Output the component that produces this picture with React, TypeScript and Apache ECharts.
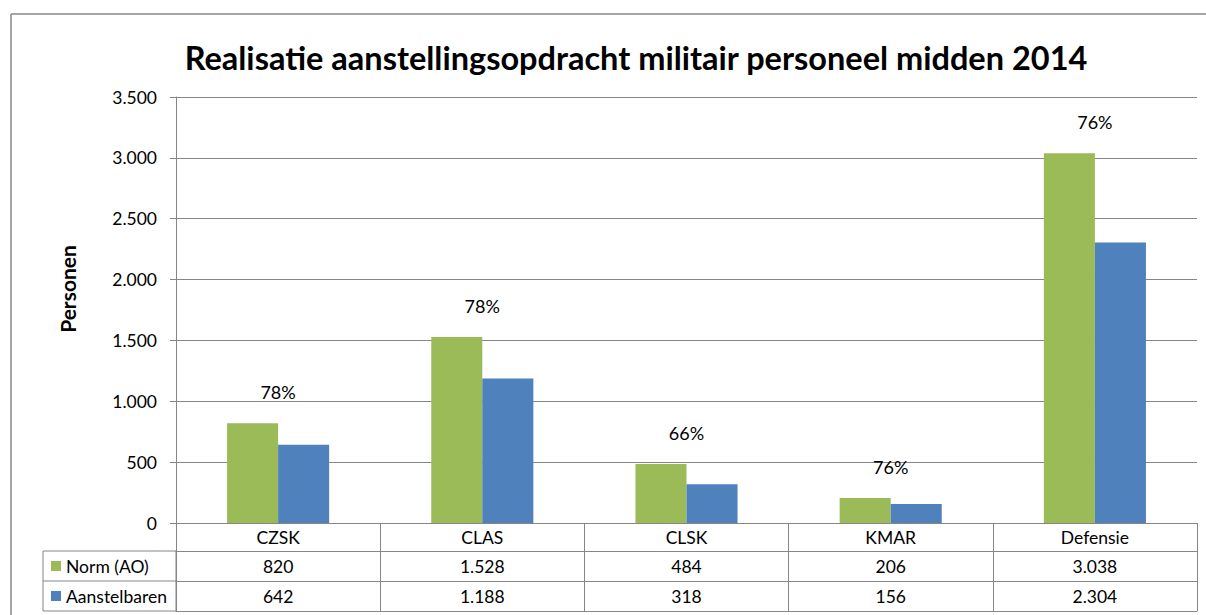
import React, { useEffect, useRef } from "react";
import * as echarts from "echarts";

const categories = ["CZSK", "CLAS", "CLSK", "KMAR", "Defensie"];
const normAO = [820, 1528, 484, 206, 3038];
const aanstelbaren = [642, 1188, 318, 156, 2304];
const realisatie = ["78%", "78%", "66%", "76%", "76%"];
const seriesNames = ["Norm (AO)", "Aanstelbaren"];
const yTicks = { min: 0, max: 3500, interval: 500 };
const titleText = "Realisatie aanstellingsopdracht militair personeel midden 2014";
const yAxisTitle = "Personen";

const fmt = (v: number) => String(v).replace(/\B(?=(\d{3})+(?!\d))/g, ".");

const FONT = "Lato, 'Open Sans', sans-serif";
const GRID_COLOR = "#868686";
const GREEN = "#9BBB59";
const BLUE = "#4F81BD";
const FS = 17.5;

export default function App() {
  const ref = useRef<HTMLDivElement>(null);
  useEffect(() => {
    document.documentElement.style.overflow = "hidden";
    document.body.style.margin = "0";
    document.body.style.overflow = "hidden";
    if (!ref.current) return;
    const chart = echarts.init(ref.current, undefined, { renderer: "svg" });
    const option: any = {
      animation: false,
      textStyle: { fontFamily: FONT },
      grid: { left: 176, right: 9, top: 97, bottom: 92, containLabel: false },
      legend: {
        data: seriesNames,
        orient: "vertical",
        left: 51,
        top: 557,
        padding: 0,
        itemWidth: 10,
        itemHeight: 10,
        itemGap: 12,
        icon: "rect",
        selectedMode: false,
        textStyle: { fontFamily: FONT, fontSize: FS, color: "#000", lineHeight: 18 },
      },
      xAxis: [
        {
          type: "category",
          data: categories,
          position: "bottom",
          axisLine: { show: true, lineStyle: { color: GRID_COLOR, width: 1 } },
          axisTick: { show: true, length: 88, interval: 0, alignWithLabel: false, lineStyle: { color: GRID_COLOR } },
          axisLabel: { interval: 0, margin: 5, fontSize: FS, color: "#000", fontFamily: FONT },
        },
        {
          type: "category",
          data: normAO.map(fmt),
          position: "bottom",
          offset: 28,
          axisLine: { show: true, lineStyle: { color: GRID_COLOR, width: 1 } },
          axisTick: { show: false },
          axisLabel: { interval: 0, margin: 6, fontSize: FS, color: "#000", fontFamily: FONT },
        },
        {
          type: "category",
          data: aanstelbaren.map(fmt),
          position: "bottom",
          offset: 58,
          axisLine: { show: true, lineStyle: { color: GRID_COLOR, width: 1 } },
          axisTick: { show: false },
          axisLabel: { interval: 0, margin: 6, fontSize: FS, color: "#000", fontFamily: FONT },
        },
        {
          type: "category",
          data: categories,
          position: "bottom",
          offset: 88,
          axisLine: { show: true, lineStyle: { color: GRID_COLOR, width: 1 } },
          axisTick: { show: false },
          axisLabel: { show: false },
        },
      ],
      yAxis: {
        type: "value",
        min: yTicks.min,
        max: yTicks.max,
        interval: yTicks.interval,
        axisLine: { show: true, lineStyle: { color: GRID_COLOR } },
        axisTick: { show: true, length: 6, lineStyle: { color: GRID_COLOR } },
        axisLabel: { fontSize: FS, color: "#000", margin: 19, fontFamily: FONT, formatter: (v: number) => fmt(v) },
        splitLine: { show: true, lineStyle: { color: GRID_COLOR, width: 1 } },
      },
      series: [
        {
          name: seriesNames[0],
          type: "bar",
          data: normAO,
          barGap: "0%",
          barCategoryGap: "50%",
          itemStyle: { color: GREEN },
          label: {
            show: true,
            position: "top",
            distance: 22,
            offset: [25.5, 0],
            fontSize: 18,
            color: "#000",
            fontFamily: FONT,
            formatter: (p: any) => realisatie[p.dataIndex],
          },
        },
        {
          name: seriesNames[1],
          type: "bar",
          data: aanstelbaren,
          barGap: "0%",
          barCategoryGap: "50%",
          itemStyle: { color: BLUE },
        },
      ],
      graphic: [
        {
          type: "line",
          shape: { x1: 11, y1: 14, x2: 1206, y2: 14 },
          style: { stroke: "#898989", lineWidth: 1.5 },
          silent: true,
        },
        {
          type: "line",
          shape: { x1: 11, y1: 14, x2: 11, y2: 615 },
          style: { stroke: "#898989", lineWidth: 1.5 },
          silent: true,
        },
        {
          type: "rect",
          shape: { x: 43, y: 551, width: 133, height: 60 },
          style: { fill: "none", stroke: GRID_COLOR, lineWidth: 1 },
          silent: true,
        },
        {
          type: "line",
          shape: { x1: 43, y1: 581, x2: 176, y2: 581 },
          style: { stroke: GRID_COLOR, lineWidth: 1 },
          silent: true,
        },
        {
          type: "text",
          x: 636,
          y: 57,
          style: {
            text: titleText,
            fontSize: 32.5,
            fontWeight: "bold",
            fontFamily: FONT,
            fill: "#000",
            align: "center",
            verticalAlign: "middle",
          },
        },
        {
          type: "text",
          x: 67,
          y: 289,
          rotation: Math.PI / 2,
          style: {
            text: yAxisTitle,
            fontSize: 21,
            fontWeight: "bold",
            fontFamily: FONT,
            fill: "#000",
            align: "center",
            verticalAlign: "middle",
          },
        },
      ],
    };
    chart.setOption(option);
    return () => chart.dispose();
  }, []);
  return (
    <div
      ref={ref}
      style={{ position: "fixed", left: 0, top: 0, width: 1206, height: 615, background: "#fff", overflow: "hidden" }}
    />
  );
}
